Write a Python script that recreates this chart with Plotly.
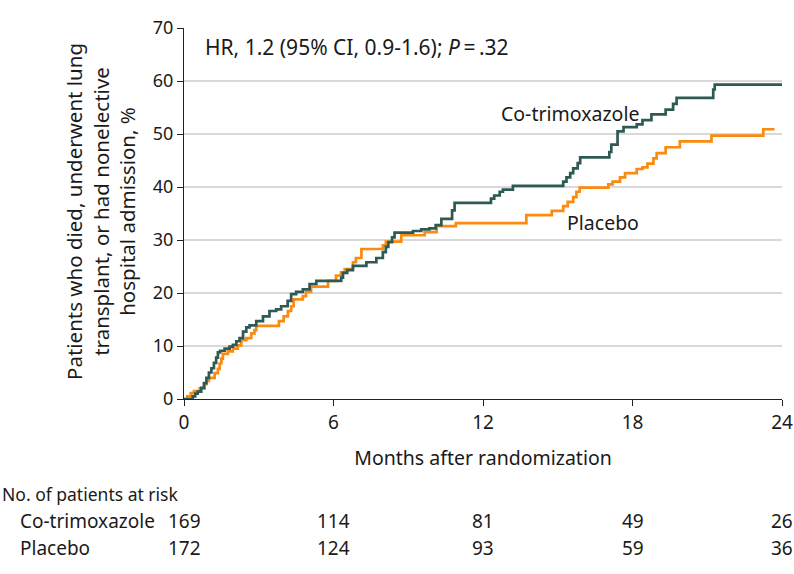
import plotly.graph_objects as go

# cumulative incidence (%)
cotrim_months = [0, 0.35, 0.45, 0.55, 0.69, 0.8, 0.9, 1.0, 1.1, 1.2, 1.29, 1.36, 1.45, 1.63, 1.83,
                 1.96, 2.1, 2.23, 2.37, 2.5, 2.63, 2.9, 3.17, 3.43, 3.7, 3.9, 4.16, 4.3, 4.5, 4.77,
                 5.04, 5.31, 6.31, 6.38, 6.55, 6.78, 7.32, 7.72, 7.98, 8.1, 8.2, 8.35, 8.45, 9.19,
                 9.52, 9.85, 10.1, 10.33, 10.76, 10.86, 12.32, 12.45, 12.67, 12.8, 13.2, 15.22,
                 15.35, 15.5, 15.62, 15.8, 15.9, 17.07, 17.15, 17.4, 17.64, 18.17, 18.4, 18.76,
                 19.33, 19.63, 19.77, 21.24, 21.3, 24.0]
cotrim_pct = [0, 0.5, 1.0, 1.4, 2.1, 3.0, 4.0, 5.0, 5.8, 6.8, 7.8, 8.8, 9.1, 9.5, 9.9,
              10.2, 10.9, 11.5, 12.7, 13.5, 13.9, 14.7, 15.6, 16.6, 16.9, 17.5, 18.5, 19.8, 20.2, 20.7,
              21.7, 22.3, 22.9, 23.8, 24.3, 25.1, 25.8, 26.6, 27.7, 28.7, 29.6, 30.5, 31.4, 31.7,
              32.0, 32.2, 32.8, 34.0, 35.6, 37.0, 37.8, 38.4, 39.1, 39.5, 40.2, 41.0,
              41.8, 42.6, 43.5, 44.5, 45.6, 46.6, 48.0, 50.5, 51.3, 51.8, 52.6, 53.7,
              54.6, 55.7, 56.8, 58.4, 59.3, 59.3]

placebo_months = [0, 0.13, 0.27, 0.4, 0.63, 0.83, 0.9, 1.0, 1.23, 1.36, 1.43, 1.5, 1.56, 1.76, 1.96,
                  2.16, 2.3, 2.5, 2.7, 2.83, 2.9, 3.81, 4.0, 4.17, 4.3, 4.4, 4.77, 4.9, 5.1, 5.78,
                  6.1, 6.3, 6.45, 6.78, 6.9, 7.12, 7.98, 8.1, 8.72, 9.66, 10.14, 10.91, 13.74, 14.76,
                  15.22, 15.4, 15.62, 15.75, 15.88, 17.03, 17.2, 17.5, 17.7, 18.17, 18.4, 18.6, 18.84,
                  18.97, 19.33, 19.9, 21.17, 23.25, 23.7]
placebo_pct = [0, 0.5, 1.1, 1.5, 2.0, 2.8, 3.4, 4.0, 4.9, 5.7, 6.7, 7.6, 8.5, 9.0, 9.5,
               10.1, 11.1, 11.5, 12.4, 13.0, 13.8, 14.7, 15.6, 16.6, 17.5, 18.8, 19.4, 20.2, 21.2, 22.3,
               23.3, 23.9, 24.5, 25.8, 26.6, 28.3, 29.0, 29.7, 30.9, 31.5, 32.6, 33.2, 34.7, 35.5,
               36.4, 37.2, 38.1, 39.1, 39.9, 40.5, 41.0, 41.8, 42.6, 43.4, 43.7, 44.4, 45.4,
               46.4, 47.5, 48.6, 49.7, 50.9, 50.9]

risk_months = [0, 6, 12, 18, 24]
risk_cotrim = [169, 114, 81, 49, 26]
risk_placebo = [172, 124, 93, 59, 36]

GREEN = '#2e5a55'
ORANGE = '#fb8a10'
TXT = 'Noto Sans'

# plot box in pixels
L, R, T, B = 184, 12, 28, 175
plot_w = 794 - L - R
plot_h = 574 - T - B

fig = go.Figure()
fig.add_trace(go.Scatter(x=placebo_months, y=placebo_pct, mode='lines', line_shape='hv',
                         line=dict(color=ORANGE, width=2.7), name='Placebo'))
fig.add_trace(go.Scatter(x=cotrim_months, y=cotrim_pct, mode='lines', line_shape='hv',
                         line=dict(color=GREEN, width=2.7), name='Co-trimoxazole'))

fig.update_layout(
    width=794, height=574,
    margin=dict(l=L, r=R, t=T, b=B),
    plot_bgcolor='white', paper_bgcolor='white',
    showlegend=False,
    font=dict(family=TXT, size=17, color='#1a1a1a'),
)
fig.update_xaxes(range=[0, 24], tickvals=risk_months, ticks='outside', ticklen=6,
                 tickcolor='#222', showline=True, linecolor='#222', linewidth=1.2,
                 showgrid=False, zeroline=False, automargin=False, tickfont=dict(size=19),
                 title=dict(text='Months after randomization', font=dict(size=19.5), standoff=17))
fig.update_yaxes(range=[0, 70], dtick=10, ticks='outside', ticklen=6, tickcolor='#222',
                 showline=True, linecolor='#222', linewidth=1.2, automargin=False,
                 showgrid=True, gridcolor='#d9d9d9', gridwidth=1.5, zeroline=False,
                 tickfont=dict(size=18))

def px_x(p):
    return (p - L) / plot_w

def px_y(p):
    return (574 - B - p) / plot_h

# y-axis title as a rotated annotation
fig.add_annotation(xref='paper', yref='paper', x=px_x(100), y=px_y(212), xanchor='center',
                   yanchor='middle',
                   text='Patients who died, underwent lung<br>transplant, or had nonelective<br>hospital admission, %',
                   textangle=-90, showarrow=False, font=dict(size=20.5))
fig.add_annotation(xref='x', yref='y', x=0.75, y=66.5, xanchor='left',
                   text='HR, 1.2 (95% CI, 0.9-1.6); <i>P</i>\u2009=\u2009.32', showarrow=False,
                   font=dict(size=21))
fig.add_annotation(xref='x', yref='y', x=12.65, y=53.8, xanchor='left', text='Co-trimoxazole',
                   showarrow=False, font=dict(size=19.5))
fig.add_annotation(xref='x', yref='y', x=15.3, y=33.3, xanchor='left', text='Placebo',
                   showarrow=False, font=dict(size=19.5))

# number at risk table
fig.add_annotation(xref='paper', yref='paper', x=px_x(0), y=px_y(494),
                   xanchor='left', yanchor='middle', text='No. of patients at risk',
                   showarrow=False, font=dict(size=17.5))
rows = [('Co-trimoxazole', risk_cotrim, 521), ('Placebo', risk_placebo, 548)]
for label, counts, ypx in rows:
    fig.add_annotation(xref='paper', yref='paper', x=px_x(18), y=px_y(ypx),
                       xanchor='left', yanchor='middle', text=label, showarrow=False,
                       font=dict(size=19))
    for m, n in zip(risk_months, counts):
        fig.add_annotation(xref='x', yref='paper', x=m, y=px_y(ypx),
                           xanchor='center', yanchor='middle', text=str(n), showarrow=False,
                           font=dict(size=19))

# drop the default page margin so the figure sits at the window's top-left corner
fig.write_html("out.html", config={'displayModeBar': False},
               post_script="document.body.style.margin='0px';")
